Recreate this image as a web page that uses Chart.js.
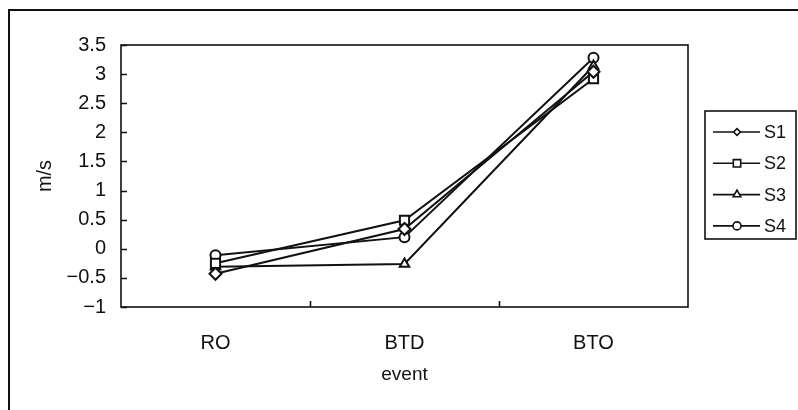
<!DOCTYPE html>
<html>
<head>
<meta charset="utf-8">
<script src="https://cdn.jsdelivr.net/npm/chart.js@4.4.1/dist/chart.umd.min.js"></script>
<style>
  html, body { margin: 0; padding: 0; background: #fff; }
  #wrap { position: relative; width: 798px; height: 410px; }
  canvas { display: block; }
</style>
</head>
<body>
<div id="wrap"><canvas id="c" width="798" height="410"></canvas></div>
<script>
// Event categories along the x axis
const categories = ['RO', 'BTD', 'BTO'];

// Velocity (m/s) for each subject at each event
const s1 = [-0.43, 0.34, 3.04];
const s2 = [-0.25, 0.49, 2.92];
const s3 = [-0.31, -0.26, 3.14];
const s4 = [-0.11, 0.20, 3.28];

const seriesNames = ['S1', 'S2', 'S3', 'S4'];
const seriesMarkers = ['rectRot', 'rect', 'triangle', 'circle'];
const markerRadius = [6, 6.5, 5.5, 5];

// y axis ticks
const yTicks = [-1, -0.5, 0, 0.5, 1, 1.5, 2, 2.5, 3, 3.5];
const yMin = -1, yMax = 3.5;

const FONT = 'Liberation Sans, Arial, sans-serif';
const INK = '#111';

function fmtTick(v) {
  return String(v).replace('-', '\u2212');
}

function drawMarker(ctx, style, x, y, r) {
  ctx.beginPath();
  if (style === 'circle') {
    ctx.arc(x, y, r, 0, Math.PI * 2);
  } else if (style === 'rect') {
    const s = r * Math.SQRT1_2;
    ctx.rect(x - s, y - s, 2 * s, 2 * s);
  } else if (style === 'rectRot') {
    const s = r * Math.SQRT1_2;
    ctx.moveTo(x - s, y);
    ctx.lineTo(x, y + s);
    ctx.lineTo(x + s, y);
    ctx.lineTo(x, y - s);
    ctx.closePath();
  } else if (style === 'triangle') {
    const h = r * 1.5;
    const side = r * 3 / Math.sqrt(3);
    ctx.moveTo(x - side / 2, y + h / 3);
    ctx.lineTo(x + side / 2, y + h / 3);
    ctx.lineTo(x, y - 2 * h / 3);
    ctx.closePath();
  }
  ctx.fillStyle = '#fff';
  ctx.fill();
  ctx.stroke();
}

// Outer frame, plot frame, inward tick marks and the boxed legend
const decorations = {
  id: 'decorations',
  beforeDraw(chart) {
    const ctx = chart.ctx;
    ctx.save();
    ctx.strokeStyle = INK;
    ctx.lineWidth = 2;
    ctx.beginPath();
    ctx.moveTo(9, 410);
    ctx.lineTo(9, 10);
    ctx.lineTo(798, 10);
    ctx.stroke();
    ctx.restore();
  },
  afterDatasetsDraw(chart) {
    const ctx = chart.ctx;
    const a = chart.chartArea;
    const xs = chart.scales.x, ys = chart.scales.y;
    ctx.save();
    ctx.strokeStyle = INK;
    ctx.lineWidth = 1.6;
    ctx.strokeRect(a.left, a.top, a.right - a.left, a.bottom - a.top);

    // y ticks pointing into the plot
    ctx.beginPath();
    yTicks.forEach(v => {
      const py = Math.round(ys.getPixelForValue(v)) + 0.5;
      ctx.moveTo(a.left, py);
      ctx.lineTo(a.left + 6, py);
    });
    // x ticks between categories, pointing up
    for (let i = 0; i < categories.length - 1; i++) {
      const px = Math.round((xs.getPixelForValue(i) + xs.getPixelForValue(i + 1)) / 2) + 0.5;
      ctx.moveTo(px, a.bottom);
      ctx.lineTo(px, a.bottom - 6);
    }
    ctx.stroke();

    // legend
    const lx = 705, ly = 111, lw = 91, lh = 128;
    ctx.strokeRect(lx, ly, lw, lh);
    ctx.font = '18px ' + FONT;
    ctx.textBaseline = 'middle';
    ctx.textAlign = 'left';
    chart.data.datasets.forEach((ds, i) => {
      const y = ly + 21 + i * 31.3;
      ctx.lineWidth = 1.6;
      ctx.beginPath();
      ctx.moveTo(713, y);
      ctx.lineTo(760, y);
      ctx.stroke();
      drawMarker(ctx, seriesMarkers[i], 737, y, markerRadius[i] * 0.8);
      ctx.fillStyle = INK;
      ctx.fillText(ds.label, 764, y + 1);
    });
    ctx.restore();
  }
};

const seriesData = [s1, s2, s3, s4];
const datasets = seriesData.map((d, i) => ({
  label: seriesNames[i],
  data: d,
  borderColor: INK,
  borderWidth: 2,
  backgroundColor: '#fff',
  pointStyle: seriesMarkers[i],
  pointRadius: markerRadius[i],
  pointBorderWidth: 2,
  pointBorderColor: INK,
  pointBackgroundColor: '#fff',
  tension: 0
}));

new Chart(document.getElementById('c'), {
  type: 'line',
  data: { labels: categories, datasets },
  plugins: [decorations],
  options: {
    responsive: false,
    animation: false,
    layout: { padding: { top: 45, right: 110, bottom: 0, left: 0 } },
    plugins: { legend: { display: false }, tooltip: { enabled: false } },
    scales: {
      x: {
        type: 'category',
        offset: true,
        grid: { display: false, drawTicks: false },
        border: { display: false },
        ticks: { color: INK, font: { family: FONT, size: 20 }, padding: 24, maxRotation: 0 },
        title: { display: true, text: 'event', color: INK, font: { family: FONT, size: 19 }, padding: { top: 24, bottom: 24 } },
        afterFit(scale) { scale.height = 103; }
      },
      y: {
        min: yMin, max: yMax,
        grid: { display: false, drawTicks: false },
        border: { display: false },
        afterBuildTicks(scale) { scale.ticks = yTicks.map(v => ({ value: v })); },
        ticks: { color: INK, font: { family: FONT, size: 20 }, padding: 15, callback: v => fmtTick(v) },
        title: { display: true, text: 'm/s', color: INK, font: { family: FONT, size: 20 }, padding: { top: 33, bottom: 0 } },
        afterFit(scale) { scale.width = 121; }
      }
    }
  }
});
</script>
</body>
</html>
